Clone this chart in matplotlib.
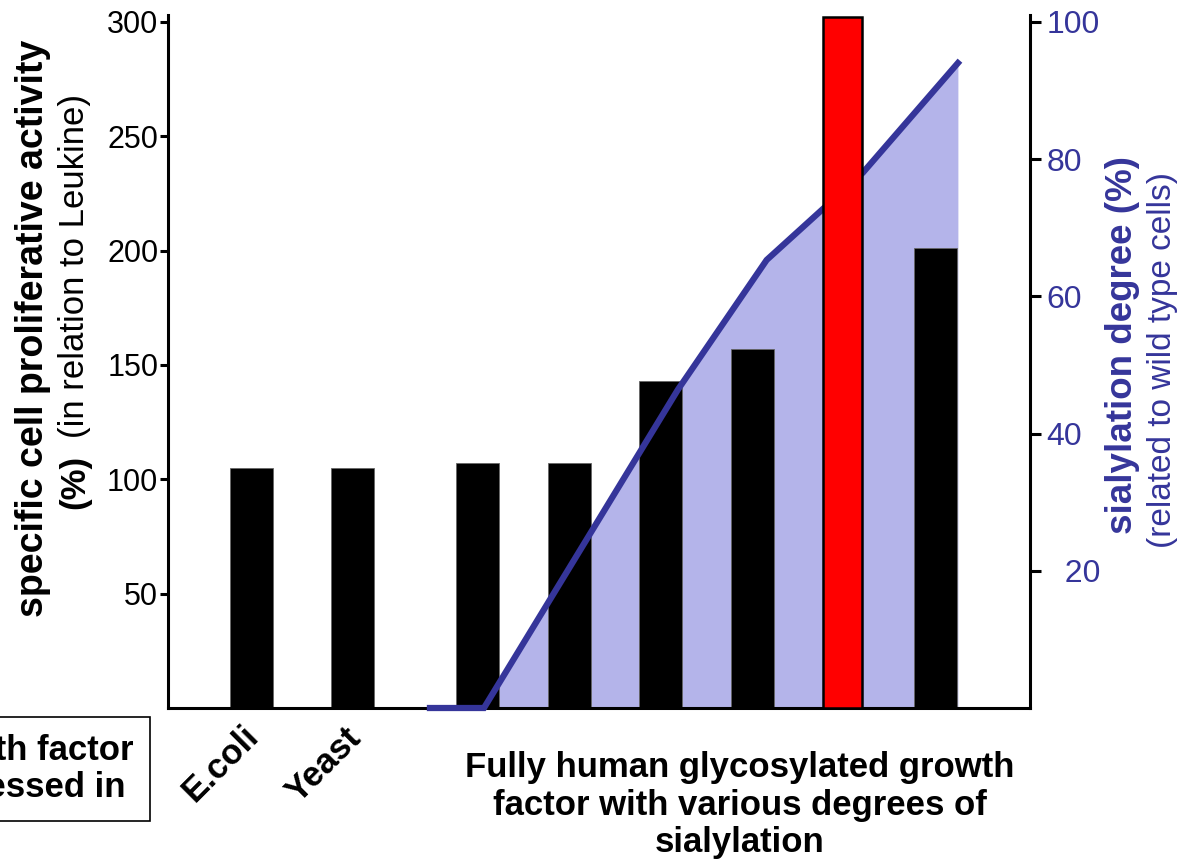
import matplotlib
matplotlib.use("Agg")
import matplotlib.pyplot as plt
from matplotlib.ticker import FixedLocator, FixedFormatter

plt.rcParams["font.family"] = ["Liberation Sans", "DejaVu Sans"]

# bar data (left axis, % activity relative to Leukine)
bar_x = [0, 1.1, 2.47, 3.47, 4.47, 5.48, 6.46, 7.48]
bar_vals = [105, 105, 107, 107, 143, 157, 302, 201]
bar_colors = ["black"] * 6 + ["#ff0000", "black"]

# sialylation degree (right axis, %)
sia_x = [1.95, 2.54, 4.66, 5.63, 6.68, 7.72]
sia_vals = [0, 0, 46.4, 65.3, 78.0, 94.0]

left_ticks = [50, 100, 150, 200, 250, 300]
right_ticks = [20, 40, 60, 80, 100]
right_labels = ["  20", "40", "60", "80", "100"]

LINE_COLOR = "#35359a"
FILL_COLOR = "#b4b4ea"

W, H = 1180, 864
fig = plt.figure(figsize=(W / 100, H / 100), dpi=100)
ax = fig.add_axes([168 / W, 1 - 708 / H, (1030 - 168) / W, (708 - 15) / H])
ax2 = ax.twinx()

ax.set_xlim(-0.913, 8.508)
ax.set_ylim(0, 303)
ax2.set_ylim(0, 101)

# fill + line use the right axis scale but sit in ax so bars can layer over/under
ax.fill_between(sia_x[1:], 0, sia_vals[1:], color=FILL_COLOR, lw=0,
                transform=ax2.transData, zorder=1)
for x, v, c in zip(bar_x, bar_vals, bar_colors):
    if c == "black":
        ax.bar(x, v, 0.47, color=c, edgecolor="#666666", lw=0.6, zorder=2)
    else:
        ax.bar(x, v, 0.43, color=c, edgecolor="black", lw=1.8, zorder=4)
ax.plot(sia_x, sia_vals, color=LINE_COLOR, lw=4.5, transform=ax2.transData,
        zorder=3, clip_on=False, solid_joinstyle="miter")

ax.set_xlim(-0.913, 8.508)
ax.set_ylim(0, 303)

for s in ("top", "right"):
    ax.spines[s].set_visible(False)
for s in ("top", "left", "bottom"):
    ax2.spines[s].set_visible(False)
for sp in (ax.spines["left"], ax.spines["bottom"], ax2.spines["right"]):
    sp.set_linewidth(2.2)
    sp.set_color("black")

ax.set_xticks([])
ax.yaxis.set_major_locator(FixedLocator(left_ticks))
ax.tick_params(axis="y", direction="out", length=6, width=2.2, pad=1,
               labelsize=22, labelcolor="black")
ax2.yaxis.set_major_locator(FixedLocator(right_ticks))
ax2.yaxis.set_major_formatter(FixedFormatter(right_labels))
ax2.tick_params(axis="y", direction="out", length=8, width=2.2, pad=4,
                labelsize=23, labelcolor=LINE_COLOR)

# left axis label
fig.text(33 / W, 1 - 328 / H, "specific cell proliferative activity",
         rotation=90, ha="center", va="center", fontsize=27, fontweight="bold")
fig.text(75 / W, 1 - 482 / H, "(%)", rotation=90, ha="center", va="center",
         fontsize=25, fontweight="bold")
fig.text(75 / W, 1 - 266 / H, "(in relation to Leukine)", rotation=90,
         ha="center", va="center", fontsize=25)

# right axis label
fig.text(1123 / W, 1 - 345 / H, "sialylation degree (%)", rotation=90,
         ha="center", va="center", fontsize=26.5, fontweight="bold",
         color=LINE_COLOR)
fig.text(1162 / W, 1 - 360 / H, "(related to wild type cells)", rotation=90,
         ha="center", va="center", fontsize=24, color=LINE_COLOR)

# category labels
fig.text(221 / W, 1 - 763 / H, "E.coli", rotation=45, ha="center",
         va="center", fontsize=25, fontweight="bold")
fig.text(324 / W, 1 - 765 / H, "Yeast", rotation=45, ha="center",
         va="center", fontsize=25, fontweight="bold")
fig.text(740 / W, 1 - 805 / H,
         "Fully human glycosylated growth\nfactor with various degrees of\nsialylation",
         ha="center", va="center", fontsize=25, fontweight="bold",
         linespacing=1.18)

# boxed label, clipped at the left edge as in the original
fig.text(133 / W, 1 - 769 / H, "Growth factor\nexpressed in", ha="right",
         va="center", ma="center", fontsize=25, fontweight="bold",
         linespacing=1.15,
         bbox=dict(boxstyle="square,pad=0.48", fc="white", ec="black", lw=1.2))

fig.savefig("out.png", dpi=100, facecolor="white")
